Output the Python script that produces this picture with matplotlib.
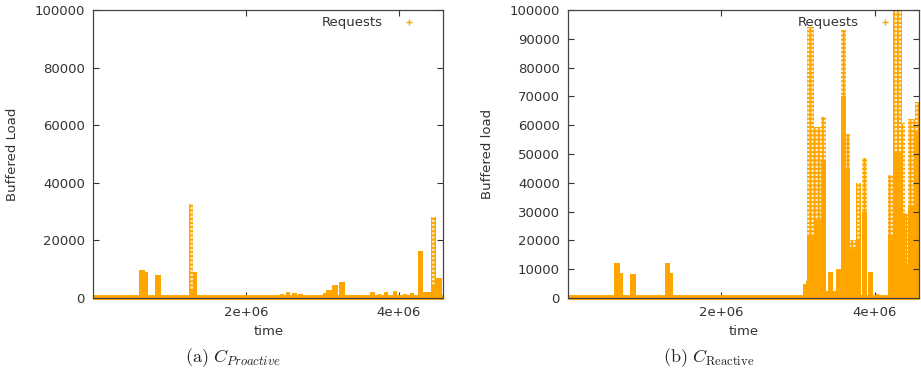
import matplotlib
matplotlib.use("Agg")
import matplotlib.pyplot as plt
from matplotlib.ticker import FuncFormatter
from matplotlib.lines import Line2D

plt.rcParams['font.family'] = 'DejaVu Sans'
plt.rcParams['mathtext.fontset'] = 'cm'
plt.rcParams['hatch.linewidth'] = 1.3

ORANGE = '#ffa500'
TEXT = '#333333'

# request bursts: start / end time (x1e6), peak load, load up to which the points are dense
pro_start = [0.60, 0.676, 0.807, 1.07, 1.25, 1.30, 2.44, 2.52, 2.60, 2.68, 2.95, 3.00, 3.05,
             3.12, 3.22, 3.29, 3.62, 3.72, 3.80, 3.92, 4.05, 4.14, 4.25, 4.32, 4.42, 4.49]
pro_end = [0.676, 0.72, 0.88, 1.13, 1.30, 1.36, 2.50, 2.58, 2.66, 2.74, 3.00, 3.05, 3.12,
           3.20, 3.29, 3.54, 3.68, 3.76, 3.86, 3.98, 4.10, 4.20, 4.32, 4.42, 4.49, 4.56]
pro_peak = [9700, 8900, 8000, 700, 32600, 9000, 1500, 2000, 1700, 1500, 1200, 1800, 2800,
            4500, 5700, 1000, 2000, 1500, 2200, 2400, 1500, 1800, 16400, 2000, 28200, 7000]
pro_dense = [9700, 8900, 8000, 700, 3000, 9000, 1500, 2000, 1700, 1500, 1200, 1800, 2800,
             4500, 5700, 1000, 2000, 1500, 2200, 2400, 1500, 1800, 16400, 2000, 4000, 7000]

rea_start = [0.60, 0.68, 0.81, 1.07, 1.26, 1.33, 3.06, 3.10, 3.12, 3.21, 3.30, 3.37, 3.39,
             3.46, 3.50, 3.56, 3.63, 3.68, 3.76, 3.83, 3.91, 4.00, 4.17, 4.24, 4.35, 4.39,
             4.43, 4.52]
rea_end = [0.68, 0.71, 0.89, 1.20, 1.33, 1.37, 3.10, 3.12, 3.21, 3.30, 3.37, 3.39, 3.46,
           3.50, 3.56, 3.63, 3.68, 3.76, 3.82, 3.90, 3.98, 4.06, 4.24, 4.35, 4.39, 4.43,
           4.52, 4.58]
rea_peak = [12000, 8800, 8300, 800, 12000, 8800, 5000, 6000, 94000, 59500, 63000, 2500, 9000,
            2500, 10000, 93000, 57000, 20000, 40000, 48500, 9000, 1500, 42700, 100000, 60700,
            29000, 62000, 68000]
rea_dense = [12000, 8800, 8300, 800, 12000, 8800, 5000, 6000, 22000, 27000, 48000, 2500, 9000,
             2500, 10000, 70000, 45000, 17000, 20000, 30000, 9000, 1500, 22000, 50800, 29500,
             11500, 32000, 58000]

# low background load that is present the whole time
base_t = [0, 4.58]
base_load = [300, 300]

t_max = 4.58e6


def draw(ax, start, end, peak, dense, yticks, ylabel, caption, cx):
    for s, e, p, d in zip(start, end, peak, dense):
        w = (e - s) * 1e6
        ax.bar(s * 1e6, d, width=w, align='edge', color=ORANGE, linewidth=0)
        if p > d:
            ax.bar(s * 1e6, p - d, bottom=d, width=w, align='edge',
                   facecolor='#fdf0d2', edgecolor=ORANGE, hatch='++++', linewidth=0)
    ax.plot([t * 1e6 for t in base_t], base_load, color=ORANGE, lw=3.5,
            solid_capstyle='butt', clip_on=False, zorder=2)

    ax.set_xlim(0, t_max)
    ax.set_ylim(0, 100000)
    ax.set_xticks([2e6, 4e6])
    ax.xaxis.set_major_formatter(FuncFormatter(lambda v, _: '{:.0e}'.format(v)))
    ax.set_yticks(yticks)
    ax.tick_params(direction='in', length=4, width=0.8, top=True, right=True,
                   labelsize=9.5, labelcolor=TEXT, color='#333333', pad=6)
    for sp in ax.spines.values():
        sp.set_color('#444444')
        sp.set_linewidth(0.9)

    handle = Line2D([], [], color=ORANGE, marker='+', linestyle='none', markersize=5)
    ax.legend([handle], ['Requests'], loc='upper right', frameon=False,
              markerfirst=False, fontsize=9.5, labelcolor=TEXT,
              bbox_to_anchor=(0.975, 1.02), handletextpad=1.0)

    pos = ax.get_position()
    fig.text(pos.x0 - 0.088, (pos.y0 + pos.y1) / 2, ylabel, rotation=90,
             ha='center', va='center', fontsize=9.5, color=TEXT)
    fig.text((pos.x0 + pos.x1) / 2, 0.113, 'time', ha='center', va='center',
             fontsize=9.5, color=TEXT)
    fig.text(cx, 0.043, caption, ha='center', va='center', fontsize=13, color='#222222')


fig = plt.figure(figsize=(9.21, 3.74), dpi=100)
ax1 = fig.add_axes([0.1013, 0.2032, 0.380, 0.770])
ax2 = fig.add_axes([0.6170, 0.2032, 0.381, 0.770])

draw(ax1, pro_start, pro_end, pro_peak, pro_dense, range(0, 100001, 20000),
     'Buffered Load', r'$\mathrm{(a)}\ C_{Proactive}$', 0.253)
draw(ax2, rea_start, rea_end, rea_peak, rea_dense, range(0, 100001, 10000),
     'Buffered load', r'$\mathrm{(b)}\ C_{\mathrm{Reactive}}$', 0.769)

fig.savefig('out.png', dpi=100)
